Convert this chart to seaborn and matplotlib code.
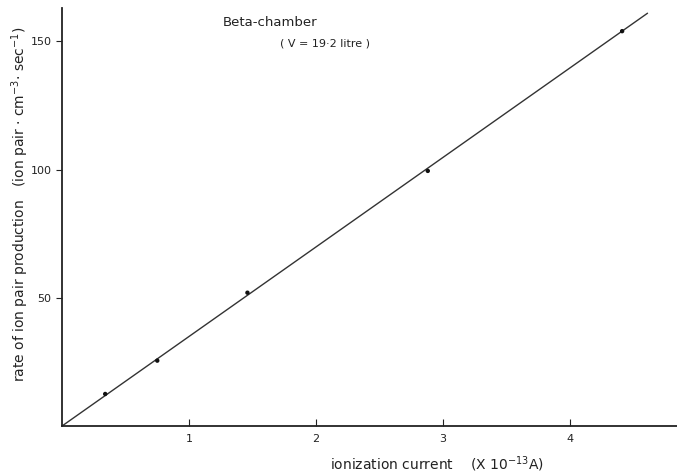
import numpy as np
import pandas as pd
import seaborn as sns
import matplotlib.pyplot as plt

# measured points (ionization current x1e-13 A, ion pair rate)
current = [0.34, 0.75, 1.46, 2.88, 4.41]
rate = [12.5, 25.5, 52, 99.5, 154]

# fitted straight line
fit_x = [0, 4.61]
fit_y = [0, 161]

x_ticks = [1, 2, 3, 4]
y_ticks = [50, 100, 150]

sns.set_style("ticks")
plt.rcParams['font.family'] = ['DejaVu Sans']

fig = plt.figure(figsize=(6.77, 4.76), dpi=100)
ax = fig.add_axes([0.0916, 0.105, 0.908, 0.878])

pts = pd.DataFrame({'current': current, 'rate': rate})
fit = pd.DataFrame({'x': fit_x, 'y': fit_y})

sns.lineplot(data=fit, x='x', y='y', color='#333333', linewidth=1.0, ax=ax)
sns.scatterplot(data=pts, x='current', y='rate', color='#111111', s=10,
                edgecolor='none', ax=ax, zorder=3)

ax.set_xlim(0, 4.84)
ax.set_ylim(0, 163)
ax.set_xticks(x_ticks)
ax.set_yticks(y_ticks)
ax.tick_params(axis='x', direction='in', length=5, width=0.8, labelsize=8,
               colors='#222222', pad=6)
ax.tick_params(axis='y', direction='out', length=4, width=0.8, labelsize=8,
               colors='#222222')
sns.despine(ax=ax)
for s in ['left', 'bottom']:
    ax.spines[s].set_linewidth(1.3)
    ax.spines[s].set_color('#222222')

ax.set_xlabel(r'ionization current    (X 10$^{-13}$A)', fontsize=10,
              color='#222222')
ax.xaxis.set_label_coords(0.61, -0.068)
ax.set_ylabel(r'rate of ion pair production   (ion pair $\cdot$ cm$^{-3}$$\cdot$ sec$^{-1}$)',
              fontsize=10, color='#222222')
ax.yaxis.set_label_coords(-0.05, 0.53)

ax.text(0.262, 0.965, 'Beta-chamber', transform=ax.transAxes, fontsize=9.5,
        color='#222222', va='center')
ax.text(0.355, 0.915, '( V = 19·2 litre )', transform=ax.transAxes, fontsize=8,
        color='#222222', va='center')

plt.savefig('out.png', dpi=100)
